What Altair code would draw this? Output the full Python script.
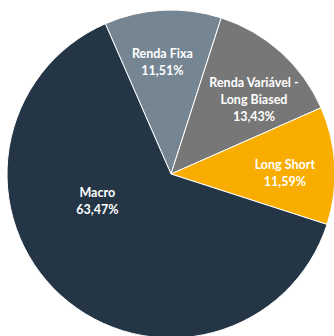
import math
import altair as alt
import pandas as pd

# Allocation by strategy (%)
categorias = ["Renda Fixa", "Renda Variável - Long Biased", "Long Short", "Macro"]
valores = [11.51, 13.43, 11.59, 63.47]
cores = ["#758592", "#777777", "#F9AD00", "#243646"]

rotulos = []
for c, v in zip(categorias, valores):
    nome = c.replace(" - ", " -\n")
    rotulos.append(nome + "\n" + f"{v:.2f}".replace(".", ",") + "%")

df = pd.DataFrame({
    "categoria": categorias,
    "valor": valores,
    "ordem": list(range(len(categorias))),
    "rotulo": rotulos,
})

inicio = -math.radians(23.6)
theta_scale = alt.Scale(domain=[0, 100], range=[inicio, inicio + 2 * math.pi])
cx, cy, raio = 171, 174, 164

fatias = alt.Chart(df).mark_arc(radius=raio, stroke="white", strokeWidth=1).encode(
    theta=alt.Theta("valor:Q", stack=True, scale=theta_scale),
    order=alt.Order("ordem:Q"),
    x=alt.value(cx),
    y=alt.value(cy),
    color=alt.Color("categoria:N", scale=alt.Scale(domain=categorias, range=cores), legend=None),
)

# Mid-angle of every slice, computed before the per-label filter
meio = alt.Chart(df).transform_window(
    acum="sum(valor)", sort=[alt.SortField("ordem")], frame=[None, 0]
).transform_calculate(meio="datum.acum - datum.valor / 2")

def rotulo(cat, r, dx, dy):
    return meio.transform_filter(alt.datum.categoria == cat).mark_text(
        radius=r, dx=dx, dy=dy, lineBreak="\n", font="Lato", fontSize=12.5,
        fontWeight="bold", color="white", align="center", baseline="middle",
        lineHeight=17,
    ).encode(
        theta=alt.Theta("meio:Q", stack=False, scale=theta_scale),
        x=alt.value(cx), y=alt.value(cy), text="rotulo:N",
    )

textos = [
    rotulo("Renda Fixa", 112, -3, -8),
    rotulo("Renda Variável - Long Biased", 112, 8, -8),
    rotulo("Long Short", 112, 2, -3),
    rotulo("Macro", 80, -20, -40),
]

chart = alt.layer(fatias, *textos).properties(
    width=334, height=336, padding=0, autosize=alt.AutoSizeParams(type="none"),
).configure_view(stroke=None)

chart.save("out.html", embed_options={"renderer": "svg", "actions": False})
